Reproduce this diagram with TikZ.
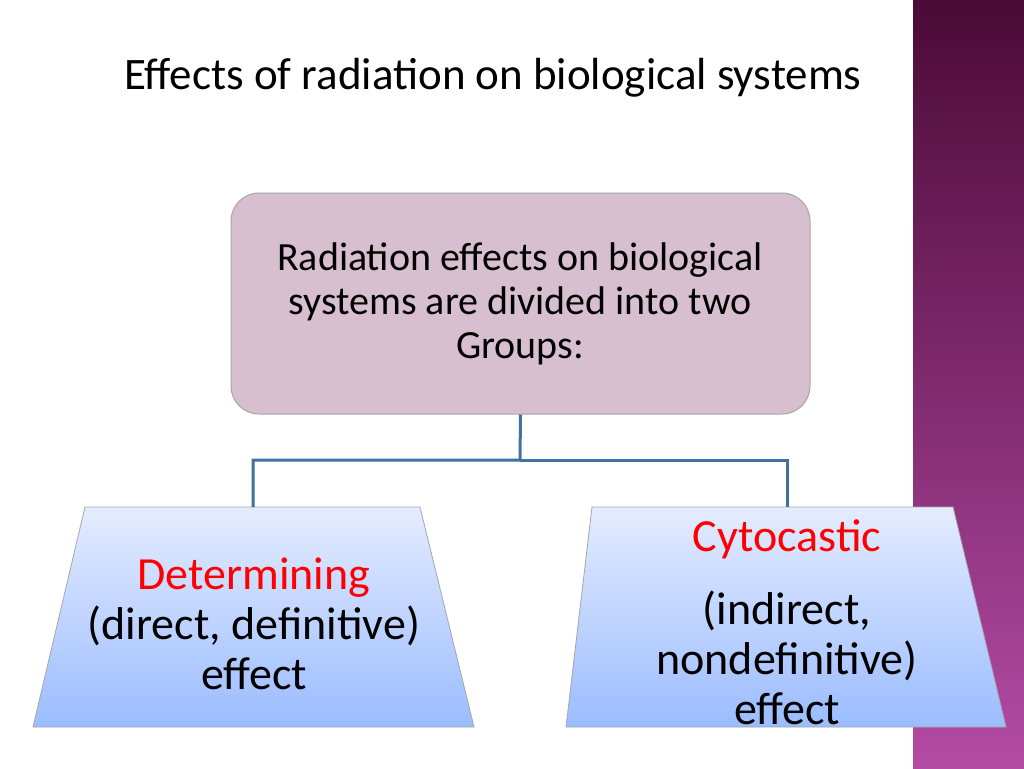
\documentclass[tikz,border=0pt]{standalone}
\usepackage{fontspec}
\setmainfont{Carlito}
\begin{document}
\begin{tikzpicture}[x=1pt,y=-1pt,
  conn/.style={line width=3pt, color={rgb,255:red,65;green,113;blue,156}},
  trap/.style={draw=gray!70, line width=0.8pt, top color={rgb,255:red,228;green,236;blue,255}, bottom color={rgb,255:red,155;green,188;blue,255}},
  txt/.style={font=\fontsize{46}{50}\selectfont, align=center}]
\useasboundingbox (0,0) rectangle (1024,768);
\fill[white] (0,0) rectangle (1024,768);
\shade[top color={rgb,255:red,75;green,10;blue,55}, bottom color={rgb,255:red,180;green,75;blue,165}] (913,0) rectangle (1024,768);
\node[font=\fontsize{45}{50}\selectfont] (title) at (493,78) {Effects of radiation on biological systems};
\node[draw=gray!70, line width=1pt, fill={rgb,255:red,216;green,191;blue,208}, rounded corners=28pt, minimum width=579pt, minimum height=221pt] (top) at (520.5,303.5) {};
\node[font=\fontsize{40}{44}\selectfont, align=center] (toptxt) at (520,304) {Radiation effects on biological\\systems are divided into two\\Groups:};
\coordinate (j) at (520,460);
\coordinate (l) at (253,460);
\coordinate (r) at (787,460);
\path[trap] (85,507) coordinate (L) -- (420,507) -- (474,727) -- (33,727) -- cycle;
\path[trap] (592,507) coordinate (R) -- (953,507) -- (1006,727) -- (566,727) -- cycle;
\draw[conn] (top.south) -- (j) -- (l) -- (253,507);
\draw[conn] (j) -- (r) -- (787,507);
\node[txt] (lt) at (254,624) {\textcolor{red}{Determining}\\(direct, definitive)\\effect};
\node[txt] (rt1) at (787,539) {\textcolor{red}{Cytocastic}};
\node[txt] (rt2) at (787,658) {(indirect,\\nondefinitive)\\effect};
\end{tikzpicture}
\end{document}
